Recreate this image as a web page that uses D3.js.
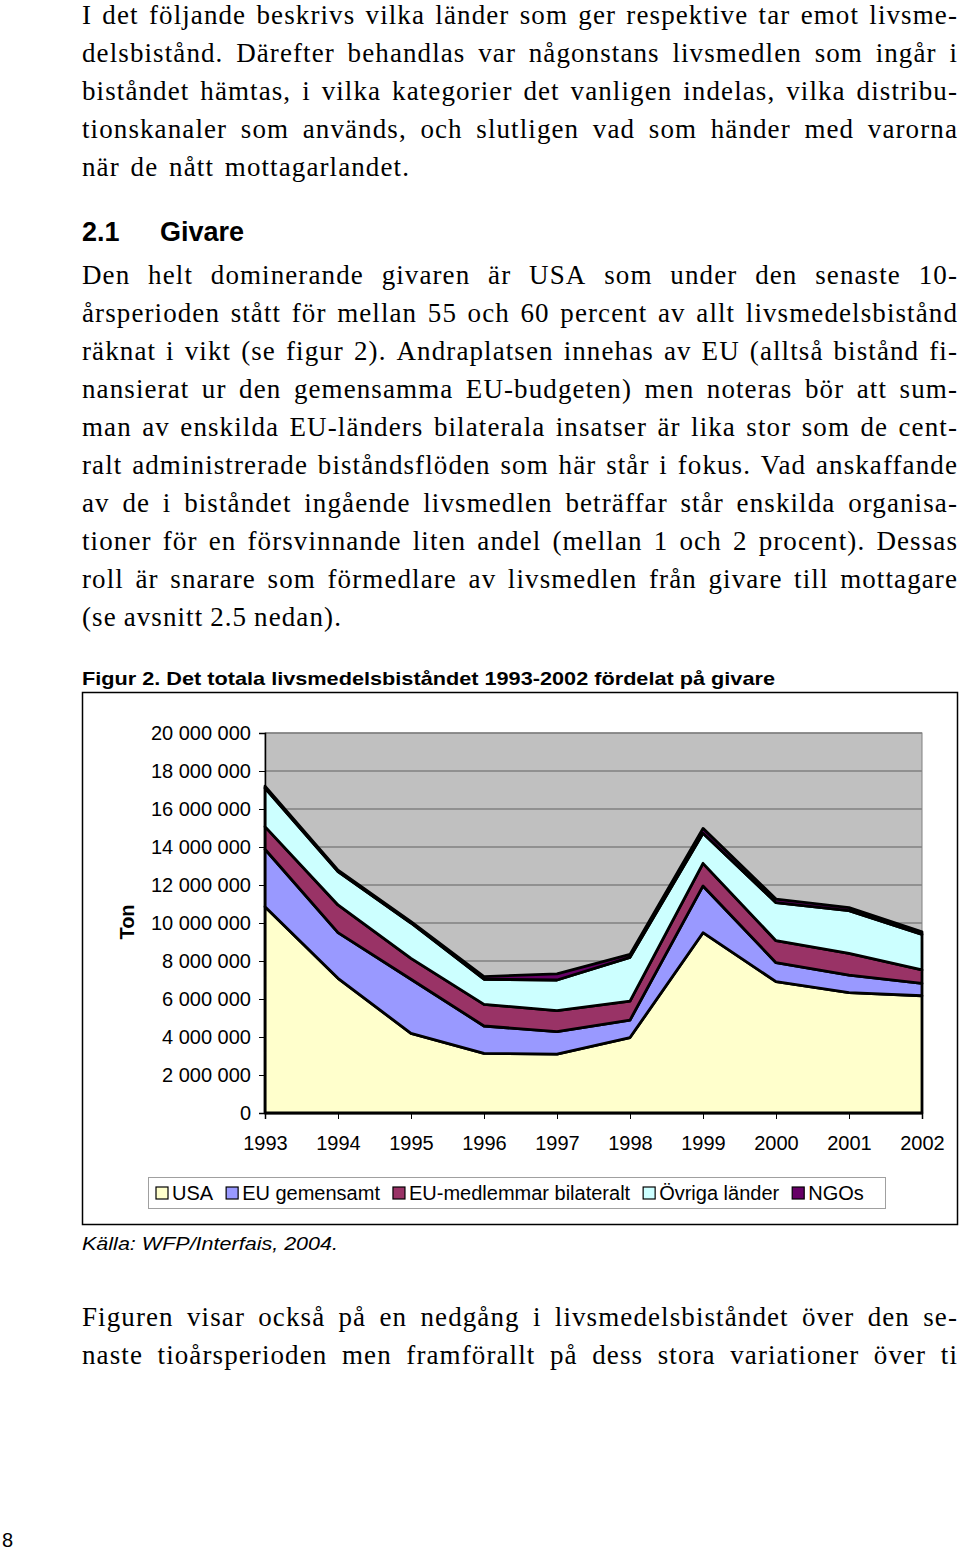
<!DOCTYPE html>
<html>
<head>
<meta charset="utf-8">
<script src="https://cdn.jsdelivr.net/npm/d3@7"></script>
<style>
body { margin: 0; background: #fff; }
</style>
</head>
<body>
<div id="page"></div>
<script>
// values (ton)
var years = [1993, 1994, 1995, 1996, 1997, 1998, 1999, 2000, 2001, 2002];
var usa = [10860000, 7090000, 4190000, 3140000, 3100000, 3970000, 9490000, 6910000, 6340000, 6170000];
var euGem = [3020000, 2400000, 2850000, 1440000, 1180000, 920000, 2460000, 1000000, 920000, 650000];
var euBil = [1190000, 1460000, 1100000, 1140000, 1110000, 1000000, 1190000, 1160000, 1140000, 710000];
var ovriga = [2030000, 1750000, 1860000, 1320000, 1610000, 2300000, 1580000, 2000000, 2250000, 1870000];
var ngos = [100000, 80000, 70000, 140000, 320000, 160000, 260000, 190000, 160000, 140000];

var seriesNames = ["USA", "EU gemensamt", "EU-medlemmar bilateralt", "Övriga länder", "NGOs"];
var seriesColors = ["#ffffcc", "#9999ff", "#993366", "#ccffff", "#660066"];
var yTicks = [0, 2000000, 4000000, 6000000, 8000000, 10000000, 12000000, 14000000, 16000000, 18000000, 20000000];

var para1 = [
    "I det följande beskrivs vilka länder som ger respektive tar emot livsme-",
    "delsbistånd. Därefter behandlas var någonstans livsmedlen som ingår i",
    "biståndet hämtas, i vilka kategorier det vanligen indelas, vilka distribu-",
    "tionskanaler som används, och slutligen vad som händer med varorna",
    "när de nått mottagarlandet."
];
var para2 = [
    "Den helt dominerande givaren är USA som under den senaste 10-",
    "årsperioden stått för mellan 55 och 60 percent av allt livsmedelsbistånd",
    "räknat i vikt (se figur 2). Andraplatsen innehas av EU (alltså bistånd fi-",
    "nansierat ur den gemensamma EU-budgeten) men noteras bör att sum-",
    "man av enskilda EU-länders bilaterala insatser är lika stor som de cent-",
    "ralt administrerade biståndsflöden som här står i fokus. Vad anskaffande",
    "av de i biståndet ingående livsmedlen beträffar står enskilda organisa-",
    "tioner för en försvinnande liten andel (mellan 1 och 2 procent). Dessas",
    "roll är snarare som förmedlare av livsmedlen från givare till mottagare",
    "(se avsnitt 2.5 nedan)."
];
var para3 = [
    "Figuren visar också på en nedgång i livsmedelsbiståndet över den se-",
    "naste tioårsperioden men framförallt på dess stora variationer över ti"
];

var table = years.map(function (y, i) {
    return {
        year: y,
        "USA": usa[i],
        "EU gemensamt": euGem[i],
        "EU-medlemmar bilateralt": euBil[i],
        "Övriga länder": ovriga[i],
        "NGOs": ngos[i]
    };
});

var svg = d3.select("#page").append("svg")
    .attr("width", 960)
    .attr("height", 1550);

var serif = "'Liberation Serif', 'Times New Roman', serif";
var sans = "'Liberation Sans', Arial, sans-serif";

// body text: each word placed so the line fills the column (justified)
function paragraph(lines, y0, lastWidth) {
    lines.forEach(function (s, i) {
        var words = s.split(" ");
        var t = svg.append("text")
            .attr("y", y0 + i * 38)
            .attr("font-family", serif)
            .attr("font-size", 27)
            .attr("letter-spacing", 1.1)
            .attr("fill", "#000");
        var spans = words.map(function (w) {
            return t.append("tspan").text(w);
        });
        var widths = spans.map(function (sp) { return sp.node().getComputedTextLength(); });
        var total = d3.sum(widths);
        var target = (i == lines.length - 1 && lastWidth) ? lastWidth : 876;
        var gap = words.length > 1 ? (target - total) / (words.length - 1) : 0;
        var cx = 82;
        spans.forEach(function (sp, k) {
            sp.attr("x", cx);
            cx += widths[k] + gap;
        });
    });
}

paragraph(para1, 24, 328);
paragraph(para2, 284, 260);
paragraph(para3, 1326, null);

svg.append("text").attr("x", 82).attr("y", 241)
    .attr("font-family", sans).attr("font-weight", "bold").attr("font-size", 27)
    .text("2.1");
svg.append("text").attr("x", 160).attr("y", 241)
    .attr("font-family", sans).attr("font-weight", "bold").attr("font-size", 27)
    .text("Givare");

svg.append("text").attr("x", 82).attr("y", 685)
    .attr("font-family", sans).attr("font-weight", "bold").attr("font-size", 19)
    .attr("textLength", 693).attr("lengthAdjust", "spacingAndGlyphs")
    .text("Figur 2. Det totala livsmedelsbiståndet 1993-2002 fördelat på givare");

// chart frame
svg.append("rect")
    .attr("x", 82.5).attr("y", 692.5)
    .attr("width", 875).attr("height", 532)
    .attr("fill", "#fff").attr("stroke", "#000").attr("stroke-width", 1.5);

var x = d3.scaleLinear().domain([1993, 2002]).range([265, 922]);
var y = d3.scaleLinear().domain([0, 20000000]).range([1113, 733]);

// plot area
svg.append("rect")
    .attr("x", x(1993)).attr("y", y(20000000))
    .attr("width", x(2002) - x(1993)).attr("height", y(0) - y(20000000))
    .attr("fill", "#c0c0c0").attr("stroke", "#808080").attr("stroke-width", 1);

svg.append("g").selectAll("line")
    .data(yTicks.slice(1))
    .enter().append("line")
    .attr("x1", x(1993)).attr("x2", x(2002))
    .attr("y1", function (d) { return y(d); })
    .attr("y2", function (d) { return y(d); })
    .attr("stroke", "#808080").attr("stroke-width", 1.5);

var stack = d3.stack().keys(seriesNames);
var layers = stack(table);

var area = d3.area()
    .x(function (d) { return x(d.data.year); })
    .y0(function (d) { return y(d[0]); })
    .y1(function (d) { return y(d[1]); });

svg.append("g").selectAll("path")
    .data(layers)
    .enter().append("path")
    .attr("d", area)
    .attr("fill", function (d, i) { return seriesColors[i]; })
    .attr("stroke", "#000")
    .attr("stroke-width", 2.8)
    .attr("stroke-linejoin", "round");

// axes
var loc = d3.formatLocale({ decimal: ",", thousands: " ", grouping: [3], currency: ["", ""] });
var fmt = loc.format(",");

var yAxis = svg.append("g")
    .attr("transform", "translate(" + x(1993) + ",0)")
    .call(d3.axisLeft(y).tickValues(yTicks).tickFormat(fmt).tickSize(6).tickPadding(8));
var xAxis = svg.append("g")
    .attr("transform", "translate(0," + y(0) + ")")
    .call(d3.axisBottom(x).tickValues(years).tickFormat(d3.format("d")).tickSize(6).tickPadding(17));

[yAxis, xAxis].forEach(function (g) {
    g.selectAll("text").attr("font-family", sans).attr("font-size", 20).attr("fill", "#000");
    g.selectAll("line").attr("stroke", "#000");
    g.select(".domain").attr("stroke", "#000").attr("stroke-width", 1.5);
});

svg.append("text")
    .attr("transform", "translate(134,922) rotate(-90)")
    .attr("text-anchor", "middle")
    .attr("font-family", sans).attr("font-weight", "bold").attr("font-size", 20)
    .text("Ton");

// legend
var legend = svg.append("g");
legend.append("rect")
    .attr("x", 148.5).attr("y", 1177.5)
    .attr("width", 737).attr("height", 31)
    .attr("fill", "#fff").attr("stroke", "#a0a0a0");

var lx = 156;
seriesNames.forEach(function (name, i) {
    legend.append("rect")
        .attr("x", lx).attr("y", 1187)
        .attr("width", 12).attr("height", 12)
        .attr("fill", seriesColors[i]).attr("stroke", "#000").attr("stroke-width", 1.2);
    var t = legend.append("text")
        .attr("x", lx + 16).attr("y", 1200)
        .attr("font-family", sans).attr("font-size", 20)
        .text(name);
    lx = lx + 16 + t.node().getComputedTextLength() + 13;
});

svg.append("text").attr("x", 82).attr("y", 1250)
    .attr("font-family", sans).attr("font-style", "italic").attr("font-size", 19)
    .attr("textLength", 256).attr("lengthAdjust", "spacingAndGlyphs")
    .text("Källa: WFP/Interfais, 2004.");

svg.append("text").attr("x", 2).attr("y", 1547)
    .attr("font-family", sans).attr("font-size", 20)
    .text("8");
</script>
</body>
</html>
